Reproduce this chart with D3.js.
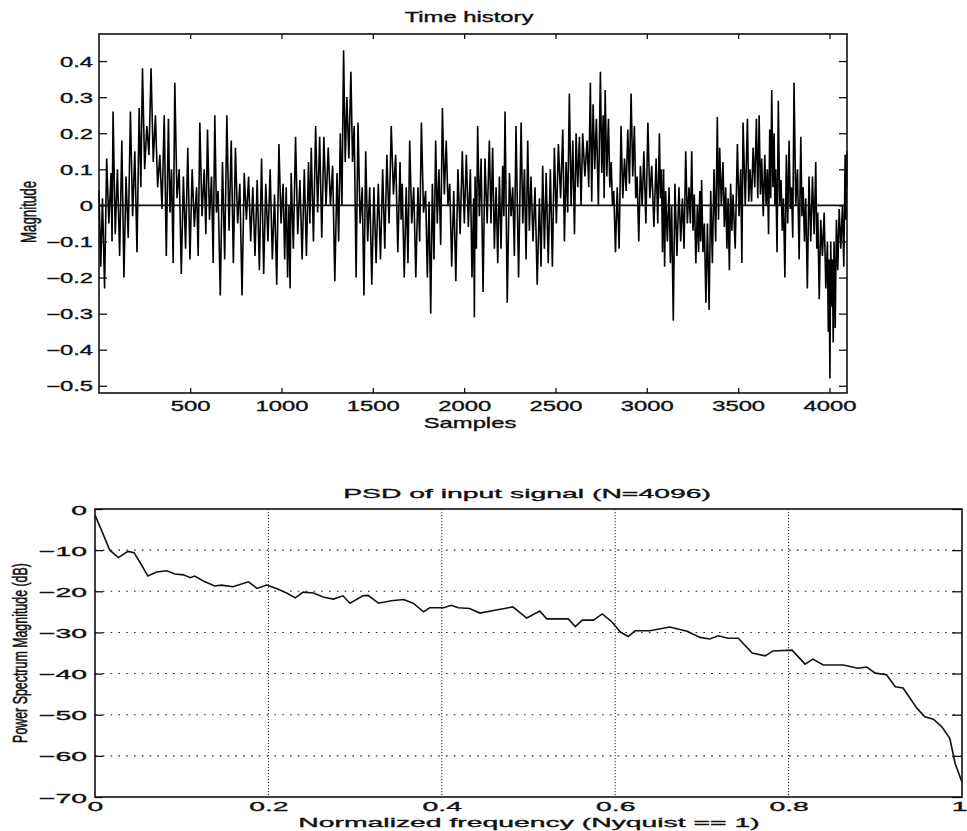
<!DOCTYPE html>
<html>
<head>
<meta charset="utf-8">
<script src="https://cdn.jsdelivr.net/npm/d3@7/dist/d3.min.js"></script>
<style>
  html, body { margin: 0; padding: 0; background: #fff; }
  svg { display: block; }
  text { font-family: "Liberation Sans", Arial, sans-serif; fill: #111; stroke: #111; stroke-width: 0.35px; }
</style>
</head>
<body>
<svg id="chart" width="967" height="831"></svg>
<script>
// ---------------- DATA ----------------
// Time history: local high / low pairs, at the given sample index
const thSamples = [
  1,20,43,67,78,102,126,149,173,197,221,239,263,286,310,334,358,381,398,416,440,463,487,511,535,553,577,595,617,635,653,677,701,725,748,772,796,820,843,867,891,914,938,962,986,1009,
  1026,1041,1053,1077,1101,1125,1148,1163,1187,1209,1232,1256,1280,1304,1322,1340,1358,1380,1398,1419,1442,1461,1483,1506,1530,1554,1577,1601,1625,1649,1661,1683,1702,1724,1747,1766,1789,1808,1826,1844,1862,1881,1902,1921,1943,1966,1990,2012,2034,2052,
  2060,2074,2093,2114,2138,2156,2175,2193,2211,2224,2248,2266,2284,2312,2330,2348,2366,2388,2412,2430,2449,2472,2494,2516,2540,2558,2576,2595,2613,2631,2649,2673,2691,2706,2724,2746,2761,2772,2790,2805,2819,2838,2859,2878,2896,2914,2932,2947,2965,2984,3006,3027,3051,3069,3080,
  3092,3103,3122,3136,3154,3176,3195,3213,3231,3246,3260,3277,3290,3300,3315,3332,3350,3368,3386,3399,3417,3432,3445,3459,3472,3496,3514,3527,3551,3565,3582,3600,3615,3629,3646,3660,3673,3684,3697,3706,3720,3735,3748,3764,3779,3792,3806,3825,3843,3856,3870,3888,3907,3925,3936,3952,3971,3989,3998,4007,4016,4025,4038,4053,4071,4086,4095
];
const thHigh = [
  0.04,0.02,0.13,0.09,0.26,0.10,0.18,0.08,0.26,0.15,0.27,0.38,0.22,0.38,0.25,0.14,0.25,0.24,0.10,0.34,0.10,0.08,0.16,0.10,0.05,0.23,0.10,0.21,0.08,0.25,0.04,0.12,0.25,0.18,0.16,0.06,0.09,0.08,0.05,0.07,0.13,0.06,0.10,0.03,0.17,0.06,
  0.05,0.00,0.09,0.19,0.07,0.10,0.12,0.16,0.22,0.19,0.19,0.16,0.11,0.09,0.20,0.43,0.30,0.37,0.22,0.23,0.05,0.15,0.05,0.05,0.06,0.10,0.14,0.22,0.14,0.12,0.06,0.05,0.18,0.05,0.05,0.23,0.04,0.01,0.06,0.18,0.10,0.27,0.18,0.06,0.04,0.10,0.15,0.14,0.10,0.02,
  0.08,0.22,0.13,0.13,0.18,0.16,0.05,0.08,0.11,0.26,0.09,0.05,0.22,0.23,0.10,0.18,0.08,0.05,0.02,0.11,0.09,0.10,0.16,0.17,0.21,0.12,0.31,0.18,0.20,0.19,0.20,0.18,0.34,0.28,0.24,0.37,0.25,0.32,0.24,0.12,0.04,0.05,0.22,0.13,0.21,0.31,0.22,0.08,0.11,0.15,0.23,0.11,0.13,0.20,0.10,
  0.10,0.04,0.05,0.00,0.06,0.05,0.02,0.15,0.05,0.15,0.03,0.00,0.04,0.07,-0.05,-0.05,0.04,0.10,0.245,0.16,0.12,0.05,0.02,0.06,0.03,0.17,0.10,0.23,0.24,0.10,0.16,0.24,0.25,0.13,0.14,0.10,0.21,0.32,0.20,0.10,0.29,0.07,0.02,0.14,0.18,0.05,0.34,0.10,0.19,0.05,0.02,0.08,0.08,0.12,-0.02,-0.04,-0.02,-0.10,-0.15,-0.10,-0.15,-0.10,-0.04,-0.01,0.00,0.14,0.15
];
const thLow = [
  -0.17,-0.23,-0.05,-0.10,-0.08,-0.14,-0.20,-0.09,-0.03,-0.13,0.05,0.10,0.14,0.12,0.05,-0.01,-0.14,-0.02,-0.16,0.02,-0.19,-0.12,-0.15,-0.06,-0.14,-0.03,-0.08,-0.04,-0.16,-0.02,-0.25,-0.15,-0.07,-0.16,-0.05,-0.25,-0.04,-0.10,-0.14,-0.18,-0.19,-0.10,-0.15,-0.22,-0.05,-0.15,
  -0.20,-0.23,-0.12,-0.08,-0.15,-0.14,-0.05,-0.10,-0.02,-0.09,0.00,0.00,-0.21,-0.10,0.00,0.12,0.13,0.12,-0.20,-0.05,-0.25,-0.10,-0.22,-0.16,-0.15,-0.12,-0.05,0.03,-0.13,-0.04,-0.20,-0.16,-0.05,-0.20,-0.10,-0.02,-0.20,-0.30,-0.15,-0.05,-0.11,0.03,0.00,-0.17,-0.21,-0.08,-0.05,-0.06,-0.20,-0.31,
  -0.12,-0.03,-0.24,-0.05,-0.05,-0.12,-0.16,-0.12,-0.03,-0.27,-0.03,-0.14,-0.20,-0.05,-0.15,-0.07,-0.10,-0.22,-0.17,-0.12,-0.16,-0.17,-0.05,0.02,-0.10,-0.02,0.00,-0.08,0.05,0.00,0.08,0.05,0.01,0.10,0.00,0.09,0.02,0.08,0.05,0.00,-0.13,-0.12,0.02,0.04,0.06,0.08,0.02,-0.10,0.00,-0.05,0.02,-0.06,-0.05,0.02,-0.13,
  -0.17,-0.10,-0.16,-0.32,-0.14,-0.10,-0.12,-0.05,-0.05,-0.07,-0.16,-0.13,-0.10,-0.13,-0.27,-0.29,-0.16,-0.10,-0.04,0.00,-0.06,-0.12,-0.18,-0.07,-0.12,-0.03,-0.16,0.00,0.01,0.01,0.05,0.02,0.03,-0.03,0.00,-0.08,0.02,0.05,0.00,-0.13,0.00,-0.07,-0.20,-0.05,-0.01,-0.09,0.00,-0.15,-0.03,-0.10,-0.23,-0.10,-0.08,-0.12,-0.26,-0.14,-0.23,-0.35,-0.48,-0.28,-0.38,-0.34,-0.18,-0.12,-0.17,-0.04,0.05
];
const thXTicks = [500,1000,1500,2000,2500,3000,3500,4000];
const thYTicks = [-0.5,-0.4,-0.3,-0.2,-0.1,0,0.1,0.2,0.3,0.4];

// PSD
const psdFreq = [0,0.006,0.017,0.027,0.038,0.045,0.052,0.061,0.071,0.083,0.092,0.102,0.11,0.115,0.125,0.138,0.146,0.159,0.177,0.187,0.198,0.21,0.221,0.231,0.24,0.252,0.263,0.275,0.286,0.294,0.309,0.315,0.327,0.342,0.356,0.367,0.379,0.386,0.402,0.411,0.419,0.432,0.444,0.461,0.482,0.498,0.513,0.521,0.546,0.554,0.562,0.575,0.585,0.596,0.606,0.615,0.623,0.64,0.663,0.683,0.698,0.709,0.719,0.73,0.742,0.758,0.773,0.782,0.804,0.819,0.828,0.84,0.863,0.88,0.89,0.9,0.913,0.923,0.932,0.948,0.957,0.967,0.977,0.986,0.992,1.0];
const psdDb = [-1.5,-4.4,-10,-11.8,-10.3,-10.6,-13,-16.3,-15.3,-15,-15.8,-16,-16.7,-16.3,-17.5,-18.7,-18.5,-18.9,-17.7,-19.3,-18.5,-19.4,-20.4,-21.6,-20.2,-20.4,-21.4,-21.9,-21.1,-22.9,-21.1,-21,-22.9,-22.3,-22,-22.9,-25,-24,-24,-23.4,-24,-24.2,-25.3,-24.6,-23.8,-26.5,-24.8,-26.7,-26.7,-28.6,-27,-27,-25.5,-27.4,-29.9,-31,-29.6,-29.6,-28.7,-29.7,-31.2,-31.6,-30.8,-31.4,-31.4,-35,-35.7,-34.5,-34.3,-37.7,-36.5,-37.9,-37.9,-38.7,-38.4,-39.9,-40.3,-43.2,-43.5,-48.4,-50.5,-51.1,-53,-55.8,-61.8,-66.4];
const psdXTicks = [0,0.2,0.4,0.6,0.8,1];
const psdYTicks = [0,-10,-20,-30,-40,-50,-60,-70];

// ---------------- DRAW ----------------
const svg = d3.select('#chart');

function stext(g, x, y, str, anchor, size, sx, rot) {
  const t = g.append('text')
    .attr('text-anchor', anchor)
    .attr('font-size', size)
    .text(str);
  if (rot) t.attr('transform', `translate(${x},${y}) rotate(-90) scale(1,${sx})`);
  else t.attr('transform', `translate(${x},${y}) scale(${sx},1)`);
  return t;
}
function fixLabels(axisG, dx, dy, anchor, size, sx) {
  axisG.selectAll('.tick text').each(function() {
    d3.select(this)
      .attr('x', null).attr('y', null).attr('dy', null)
      .attr('text-anchor', anchor)
      .attr('font-size', size)
      .attr('fill', '#111')
      .attr('transform', `translate(${dx},${dy}) scale(${sx},1)`);
  });
  axisG.attr('font-family', null).attr('font-size', null);
}
const fmt = d3.format('');

// ---- Top: Time history ----
{
  const L = 99, R = 847, T = 34, B = 393;
  const SX = 1.7, FS = 14;
  const x = d3.scaleLinear().domain([1, 4096]).range([L, R]);
  const y = d3.scaleLinear().domain([-0.52, 0.475]).range([B, T]);
  const g = svg.append('g');

  // signal
  const pts = [];
  thSamples.forEach((s, i) => {
    pts.push([s, thHigh[i]]);
    const sNext = i < thSamples.length - 1 ? thSamples[i + 1] : 4096;
    pts.push([(s + sNext) / 2, thLow[i]]);
  });
  g.append('path')
    .datum(pts)
    .attr('fill', 'none')
    .attr('stroke', '#000')
    .attr('stroke-width', 1.6)
    .attr('stroke-linejoin', 'miter')
    .attr('d', d3.line().x(d => x(d[0])).y(d => y(d[1])));

  // zero line
  g.append('line')
    .attr('x1', L).attr('x2', R).attr('y1', y(0)).attr('y2', y(0))
    .attr('stroke', '#111').attr('stroke-width', 1.6);

  // axes (inward ticks)
  const ax = g.append('g').attr('transform', `translate(0,${B})`)
    .call(d3.axisBottom(x).tickValues(thXTicks).tickSize(-5).tickFormat(fmt));
  fixLabels(ax, 0, 18, 'middle', FS, SX);
  g.append('g').attr('transform', `translate(0,${T})`)
    .call(d3.axisTop(x).tickValues(thXTicks).tickSize(-5).tickFormat(''));
  const ay = g.append('g').attr('transform', `translate(${L},0)`)
    .call(d3.axisLeft(y).tickValues(thYTicks).tickSize(-8).tickFormat(fmt));
  fixLabels(ay, -6, 5, 'end', FS, SX);
  g.append('g').attr('transform', `translate(${R},0)`)
    .call(d3.axisRight(y).tickValues(thYTicks).tickSize(-8).tickFormat(''));
  g.selectAll('.domain').remove();
  g.selectAll('.tick line').attr('stroke', '#111').attr('stroke-width', 1.3);

  g.append('rect').attr('x', L).attr('y', T).attr('width', R - L).attr('height', B - T)
    .attr('fill', 'none').attr('stroke', '#111').attr('stroke-width', 1.6);

  stext(g, 469, 22, 'Time history', 'middle', FS, SX);
  stext(g, 470, 428, 'Samples', 'middle', FS, SX);
  stext(g, 36, 212, 'Magnitude', 'middle', 13.3, 1.6, true);
}

// ---- Bottom: PSD ----
{
  const L = 95, R = 962, T = 509, B = 797;
  const SX = 2.1, FS = 13.5;
  const x = d3.scaleLinear().domain([0, 1]).range([L, R]);
  const y = d3.scaleLinear().domain([-70, 0]).range([B, T]);
  const g = svg.append('g');

  // grid
  g.append('g').selectAll('line').data(psdXTicks.filter(v => v > 0 && v < 1)).join('line')
    .attr('x1', d => x(d)).attr('x2', d => x(d)).attr('y1', T).attr('y2', B)
    .attr('stroke', '#222').attr('stroke-width', 1).attr('stroke-dasharray', '1.2,1.8');
  g.append('g').selectAll('line').data(psdYTicks.filter(v => v < 0 && v > -70)).join('line')
    .attr('x1', L).attr('x2', R).attr('y1', d => y(d)).attr('y2', d => y(d))
    .attr('stroke', '#222').attr('stroke-width', 1.1).attr('stroke-dasharray', '1.6,6.2');

  // curve
  g.append('path')
    .datum(psdFreq.map((f, i) => [f, psdDb[i]]))
    .attr('fill', 'none').attr('stroke', '#111').attr('stroke-width', 1.6)
    .attr('d', d3.line().x(d => x(d[0])).y(d => y(d[1])));

  const ax = g.append('g').attr('transform', `translate(0,${B})`)
    .call(d3.axisBottom(x).tickValues(psdXTicks).tickSize(0).tickFormat(fmt));
  fixLabels(ax, 0, 14, 'middle', FS, SX);
  // keep the last label ("1") inside the picture, as the reference shows it at the edge
  ax.selectAll('.tick').filter(d => d === 1).select('text')
    .attr('text-anchor', 'end')
    .attr('transform', `translate(5,14) scale(${SX},1)`);
  const ay = g.append('g').attr('transform', `translate(${L},0)`)
    .call(d3.axisLeft(y).tickValues(psdYTicks).tickSize(-8).tickFormat(fmt));
  fixLabels(ay, -8, 5, 'end', FS, SX);
  g.append('g').attr('transform', `translate(${R},0)`)
    .call(d3.axisRight(y).tickValues(psdYTicks).tickSize(-10).tickFormat(''));
  g.selectAll('.domain').remove();
  g.selectAll('.tick line').attr('stroke', '#111').attr('stroke-width', 1.3);

  g.append('rect').attr('x', L).attr('y', T).attr('width', R - L).attr('height', B - T)
    .attr('fill', 'none').attr('stroke', '#111').attr('stroke-width', 1.6);

  stext(g, 527, 498, 'PSD of input signal (N=4096)', 'middle', FS, SX);
  stext(g, 529, 827, 'Normalized frequency (Nyquist == 1)', 'middle', FS, SX);
  stext(g, 27, 653, 'Power Spectrum Magnitude (dB)', 'middle', 12.4, 1.65, true);
}
</script>
</body>
</html>
